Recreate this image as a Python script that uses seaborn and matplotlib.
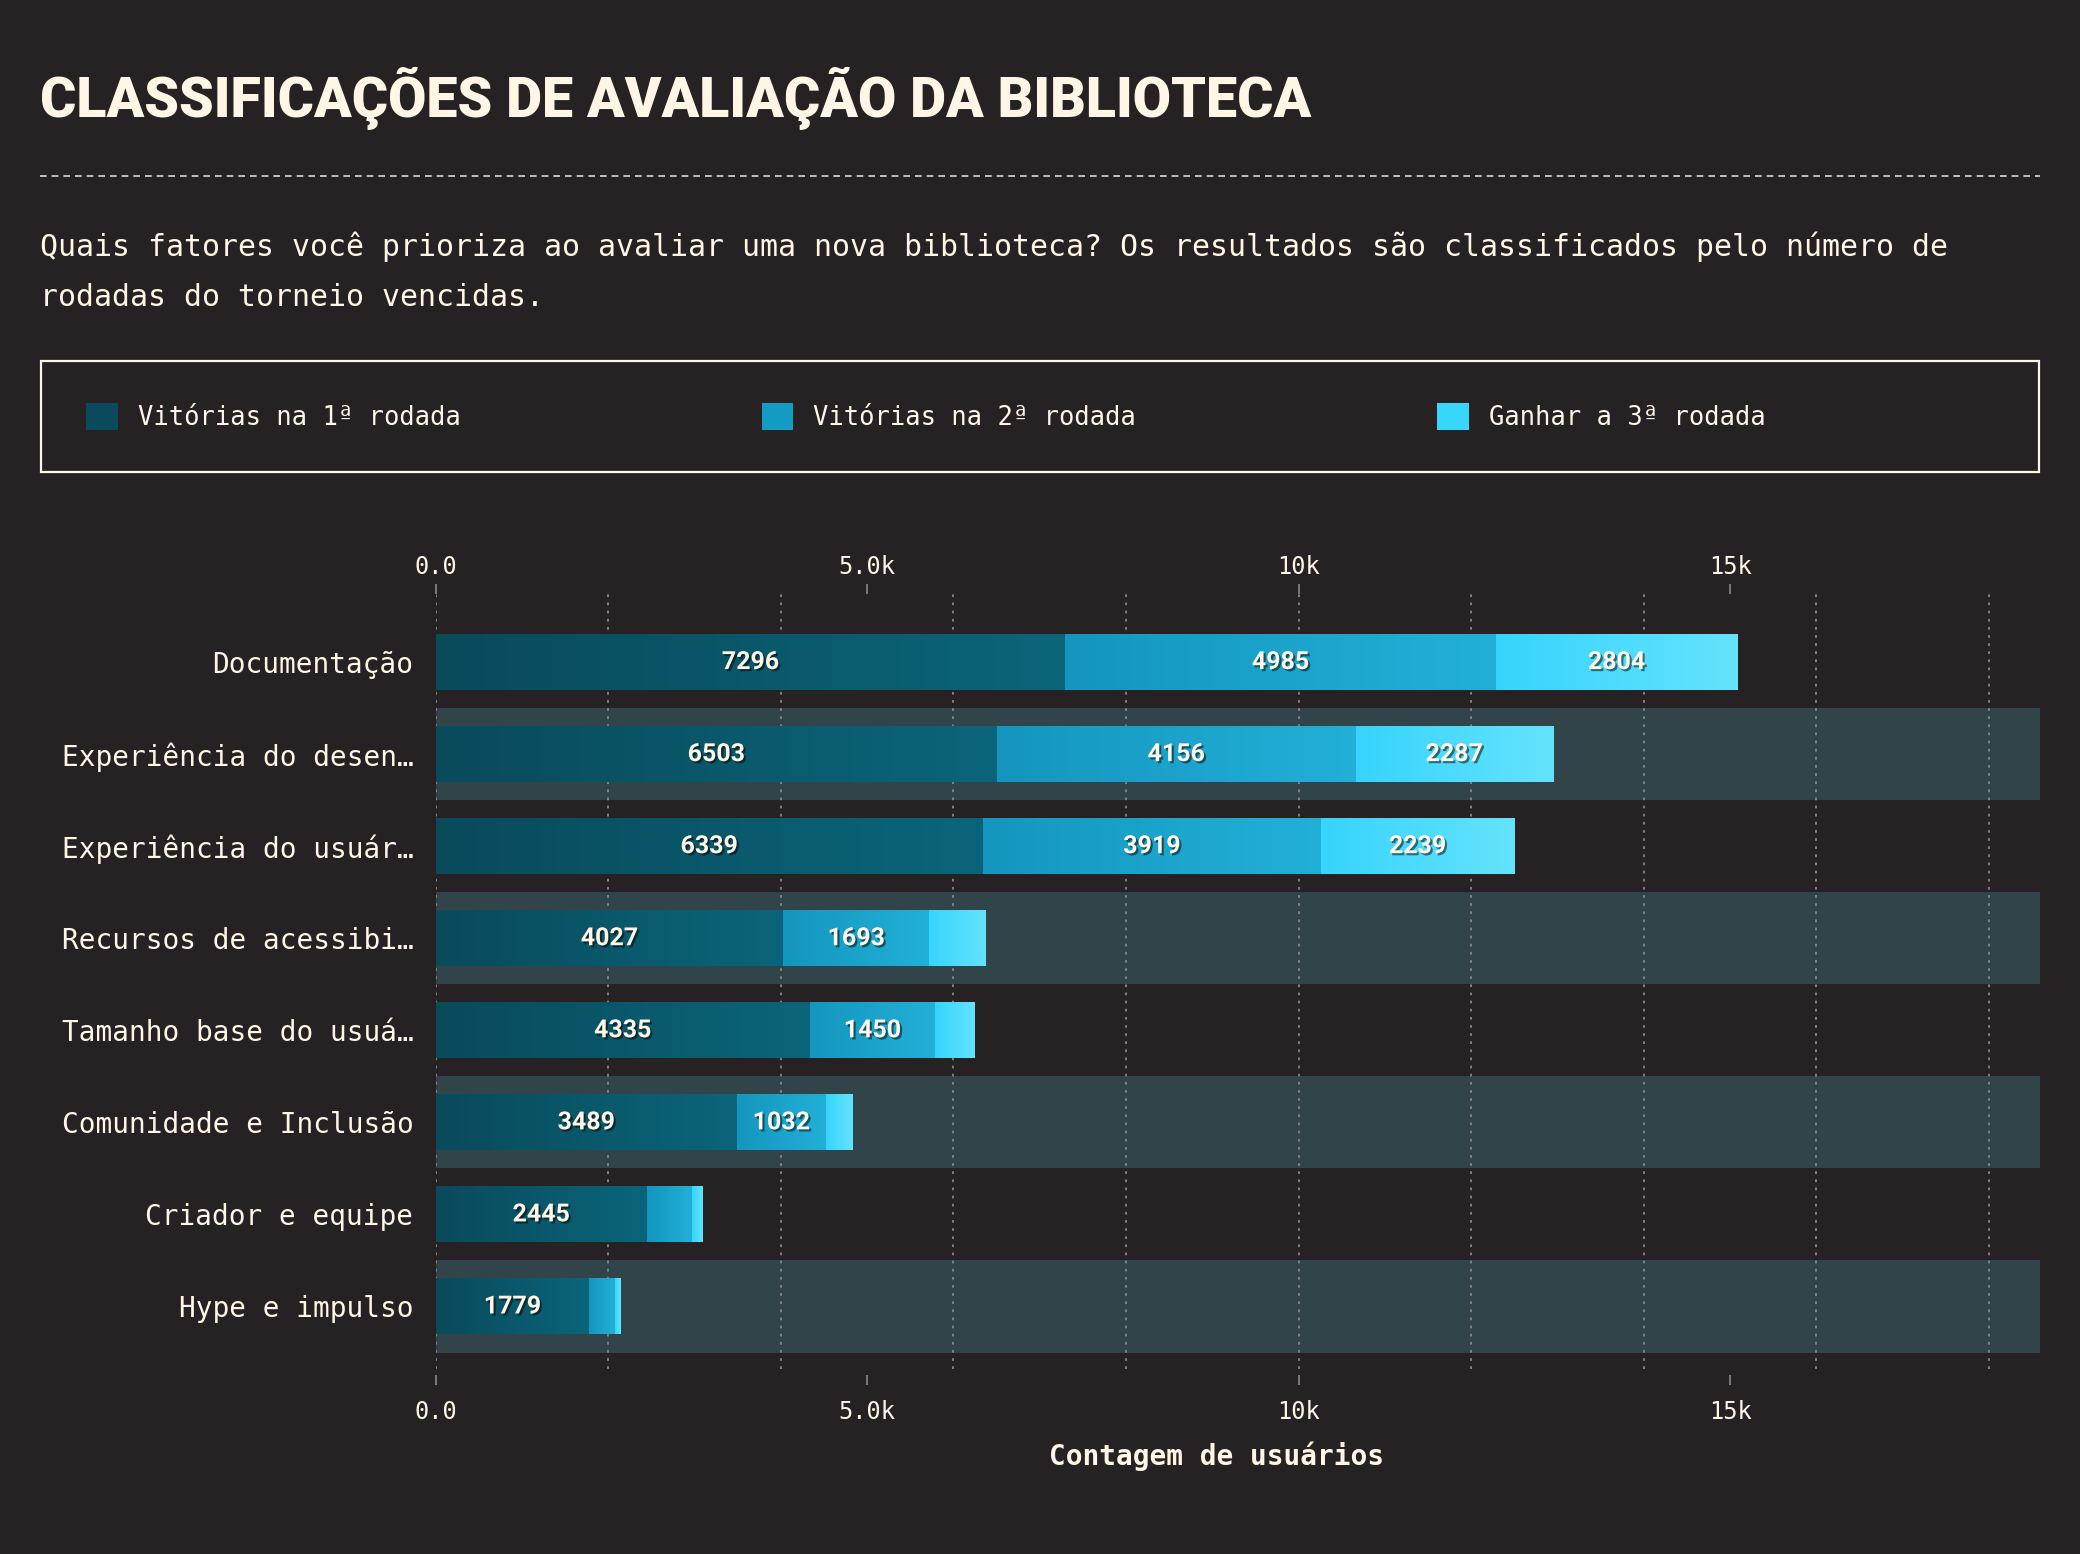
import matplotlib
matplotlib.use("Agg")
import matplotlib.pyplot as plt
import matplotlib.patheffects as pe
from matplotlib.colors import LinearSegmentedColormap
from matplotlib.patches import Rectangle, Patch
from matplotlib.lines import Line2D
from matplotlib.ticker import FixedLocator, FixedFormatter
import numpy as np
import pandas as pd
import seaborn as sns

# dados
categorias = ["Documentação", "Experiência do desen…", "Experiência do usuár…",
              "Recursos de acessibi…", "Tamanho base do usuá…",
              "Comunidade e Inclusão", "Criador e equipe", "Hype e impulso"]
rodada1 = [7296, 6503, 6339, 4027, 4335, 3489, 2445, 1779]
rodada2 = [4985, 4156, 3919, 1693, 1450, 1032, 524, 300]
rodada3 = [2804, 2287, 2239, 660, 460, 305, 119, 68]
series = ["Vitórias na 1ª rodada", "Vitórias na 2ª rodada", "Ganhar a 3ª rodada"]
tick_vals = [0, 5000, 10000, 15000]
tick_labels = ["0.0", "5.0k", "10k", "15k"]
grid_vals = [0, 2000, 4000, 6000, 8000, 10000, 12000, 14000, 16000, 18000]

BG = "#262223"
CREAM = "#fff6e6"
BAND = "#31444a"
GRID = "#8a8788"
cores_legenda = ["#0a4a5c", "#139bc3", "#38d6fb"]
gradientes = [("#094a5b", "#0b657a"), ("#1496be", "#22b0d8"), ("#36d4fc", "#64e3fd")]

sns.set_theme(style="dark")
MONO = ["DejaVu Sans Mono", "DejaVu Sans"]
plt.rcParams["font.family"] = MONO

df = pd.DataFrame({"categoria": categorias, "r1": rodada1, "r2": rodada2, "r3": rodada3})
df["c1"] = df["r1"]
df["c2"] = df["c1"] + df["r2"]
df["c3"] = df["c2"] + df["r3"]

fig = plt.figure(figsize=(20.8, 15.54), dpi=100, facecolor=BG)

# titulo, linha tracejada e subtitulo
fig.text(40 / 2080, 1 - 117 / 1554, "CLASSIFICAÇÕES DE AVALIAÇÃO DA BIBLIOTECA",
         fontsize=40, fontweight="heavy", family=["Roboto", "DejaVu Sans"],
         color=CREAM, va="baseline")
fig.add_artist(Line2D([40 / 2080, 2040 / 2080], [1 - 176 / 1554] * 2,
                      transform=fig.transFigure, color=CREAM, lw=1.2,
                      linestyle=(0, (4, 3)), alpha=0.85))
fig.text(40 / 2080, 1 - 256 / 1554,
         "Quais fatores você prioriza ao avaliar uma nova biblioteca? Os resultados são classificados pelo número de",
         fontsize=21.5, color=CREAM, va="baseline")
fig.text(40 / 2080, 1 - 306 / 1554, "rodadas do torneio vencidas.",
         fontsize=21.5, color=CREAM, va="baseline")

# legenda
fig.add_artist(Rectangle((41 / 2080, 1 - 472 / 1554), (2039 - 41) / 2080, (472 - 361) / 1554,
                         transform=fig.transFigure, fill=False, edgecolor=CREAM, lw=1.6))
handles = [Patch(facecolor=c, edgecolor="none", label=s) for c, s in zip(cores_legenda, series)]
fig.legend(handles=handles, loc="center left", bbox_to_anchor=(86 / 2080, 1 - 417 / 1554),
           ncol=3, frameon=False, prop=dict(family=MONO, size=18.4), labelcolor=CREAM,
           handlelength=1.25, handleheight=1.25, handletextpad=0.78, columnspacing=11.77,
           borderpad=0, borderaxespad=0)

ax = fig.add_axes([435.7 / 2080, 0.119, (2040 - 435.7) / 2080, 0.6178 - 0.119])
ax.set_facecolor(BG)

# faixas alternadas
for i in range(len(categorias)):
    if i % 2 == 1:
        ax.axhspan(i - 0.5, i + 0.5, color=BAND, lw=0, zorder=0)
for g in grid_vals:
    ax.axvline(g, color=GRID, lw=1.3, linestyle=(0, (1.5, 3)), zorder=1)

# barras empilhadas (sobrepostas, da maior para a menor)
for col, cor in [("c3", cores_legenda[2]), ("c2", cores_legenda[1]), ("c1", cores_legenda[0])]:
    sns.barplot(data=df, y="categoria", x=col, color=cor, width=0.6, saturation=1,
                orient="h", errorbar=None, ax=ax, zorder=3, linewidth=0, edgecolor="none")

# gradiente em cada segmento e rotulos
grad = np.linspace(0, 1, 256).reshape(1, -1)
valores = [rodada1, rodada2, rodada3]
inicios = [np.zeros(len(categorias)), df["c1"].values, df["c2"].values]
for k in range(3):
    cmap = LinearSegmentedColormap.from_list("g%d" % k, gradientes[k])
    for i in range(len(categorias)):
        a = inicios[k][i]
        b = a + valores[k][i]
        ax.imshow(grad, extent=(a, b, i + 0.3, i - 0.3), aspect="auto", cmap=cmap,
                  interpolation="bicubic", zorder=4)
        if valores[k][i] >= 1000:
            ax.text((a + b) / 2, i, str(valores[k][i]), ha="center", va="center",
                    fontsize=18, fontweight="bold", family=["Roboto", "DejaVu Sans"],
                    color=CREAM, zorder=6,
                    path_effects=[pe.withSimplePatchShadow(offset=(1.5, -1.5),
                                                           shadow_rgbFace="black", alpha=0.5)])

ax.set_xlim(0, 18590)
ax.set_ylim(7.68, -0.74)
for s in ax.spines.values():
    s.set_visible(False)
ax.spines["bottom"].set_position(("outward", 4))
ax.xaxis.set_major_locator(FixedLocator(tick_vals))
ax.xaxis.set_major_formatter(FixedFormatter(tick_labels))
ax.tick_params(axis="x", which="major", bottom=True, labelbottom=True,
               length=7, width=1.2, color=GRID, labelcolor=CREAM, labelsize=17, pad=11,
               direction="out")

# eixo superior com as mesmas marcas
ax_top = ax.secondary_xaxis("top")
ax_top.xaxis.set_major_locator(FixedLocator(tick_vals))
ax_top.xaxis.set_major_formatter(FixedFormatter(tick_labels))
ax_top.tick_params(axis="x", length=7, width=1.2, color=GRID, labelcolor=CREAM,
                   labelsize=17, pad=4, direction="out")
for s in ax_top.spines.values():
    s.set_visible(False)

ax.tick_params(axis="y", length=0, pad=16, labelsize=20, labelcolor=CREAM)
ax.set_ylabel("")
ax.set_xlabel("Contagem de usuários", fontsize=20, fontweight="bold", color=CREAM)
ax.xaxis.set_label_coords(0.487, -0.112)
ax.xaxis.label.set_va("center")
ax.grid(False)

fig.savefig("out.png", dpi=100, facecolor=BG)
